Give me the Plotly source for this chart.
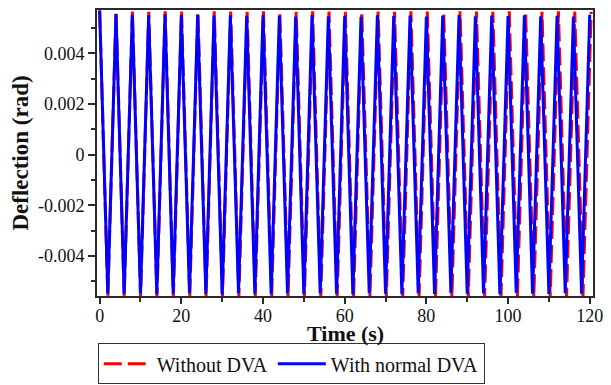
import plotly.graph_objects as go

# Extrema (time in s, deflection in rad)
blue_time = [0, 2, 4, 6, 8, 10, 12, 14, 16, 18, 20, 22, 24, 26, 28, 30, 32, 34, 36, 38,
             40, 42, 44, 46, 48, 50, 52, 54, 56, 58, 60, 62, 64, 66, 68, 70, 72, 74, 76, 78,
             80, 82, 84, 86, 88, 90, 92, 94, 96, 98, 100, 102, 104, 106, 108, 110, 112, 114, 116, 118, 120]
blue_defl = [0.00568, -0.00548, 0.00556, -0.00550, 0.00552, -0.00546, 0.00550, -0.00551, 0.00554, -0.00549,
             0.00551, -0.00547, 0.00553, -0.00550, 0.00549, -0.00552, 0.00550, -0.00546, 0.00548, -0.00549,
             0.00552, -0.00551, 0.00547, -0.00548, 0.00545, -0.00550, 0.00551, -0.00547, 0.00546, -0.00549,
             0.00548, -0.00552, 0.00544, -0.00546, 0.00550, -0.00549, 0.00547, -0.00551, 0.00549, -0.00547,
             0.00545, -0.00550, 0.00548, -0.00546, 0.00551, -0.00549, 0.00546, -0.00548, 0.00549, -0.00551,
             0.00547, -0.00546, 0.00550, -0.00549, 0.00546, -0.00550, 0.00548, -0.00547, 0.00545, -0.00549, 0.00552]

red_time = [0, 2.00, 4.01, 6.01, 8.02, 10.02, 12.03, 14.03, 16.04, 18.05, 20.05, 22.06, 24.06, 26.07, 28.07,
            30.08, 32.09, 34.09, 36.10, 38.10, 40.11, 42.12, 44.12, 46.13, 48.13, 50.14, 52.15, 54.15, 56.16,
            58.16, 60.17, 62.18, 64.18, 66.19, 68.19, 70.20, 72.21, 74.21, 76.22, 78.22, 80.23, 82.24, 84.24,
            86.25, 88.25, 90.26, 92.27, 94.27, 96.28, 98.28, 100.29, 102.30, 104.30, 106.31, 108.31, 110.32,
            112.33, 114.33, 116.34, 118.34, 120.35]
red_defl = [0.00570, -0.00562, 0.00566, -0.00561, 0.00565, -0.00563, 0.00564, -0.00562, 0.00566, -0.00561,
            0.00565, -0.00563, 0.00564, -0.00562, 0.00566, -0.00561, 0.00565, -0.00563, 0.00564, -0.00562,
            0.00566, -0.00561, 0.00565, -0.00563, 0.00564, -0.00562, 0.00566, -0.00561, 0.00565, -0.00563,
            0.00564, -0.00562, 0.00566, -0.00561, 0.00565, -0.00563, 0.00564, -0.00562, 0.00566, -0.00561,
            0.00565, -0.00563, 0.00564, -0.00562, 0.00566, -0.00561, 0.00565, -0.00563, 0.00564, -0.00562,
            0.00566, -0.00561, 0.00565, -0.00563, 0.00564, -0.00562, 0.00566, -0.00561, 0.00565, -0.00563, 0.00564]

x_ticks = [0, 20, 40, 60, 80, 100, 120]
y_ticks = [-0.004, -0.002, 0, 0.002, 0.004]
y_tick_text = ["-0.004", "-0.002", "0", "0.002", "0.004"]
x_title = "Time (s)"
y_title = "Deflection (rad)"

FONT = "Liberation Serif"
AX = "#2a2a2a"
TXT = "#111111"

fig = go.Figure()
fig.add_trace(go.Scatter(x=red_time, y=red_defl, mode="lines", name="Without DVA",
                         line=dict(color="#ff0000", width=3, dash="18px,6px")))
fig.add_trace(go.Scatter(x=blue_time, y=blue_defl, mode="lines", name="With normal DVA",
                         line=dict(color="#0000ff", width=3)))

fig.update_layout(
    width=611, height=385,
    margin=dict(l=97, r=18, t=10, b=89),
    paper_bgcolor="white", plot_bgcolor="white",
    font=dict(family=FONT, color=TXT, size=17),
    showlegend=True,
    legend=dict(orientation="h", xref="container", yref="container",
                x=0.160, xanchor="left", y=0.002, yanchor="bottom",
                bordercolor="#333333", borderwidth=1, bgcolor="white",
                font=dict(family=FONT, size=20, color=TXT),
                itemwidth=48, tracegroupgap=0, traceorder="normal"),
    annotations=[dict(text="<b>" + x_title + "</b>", xref="paper", yref="paper",
                      x=0.5, y=-0.1294, xanchor="center", yanchor="middle", showarrow=False,
                      font=dict(family=FONT, size=22, color=TXT))],
)
fig.update_xaxes(range=[-0.65, 120.8], tickvals=x_ticks, ticks="outside", ticklen=6, tickwidth=1.5,
                 tickcolor=AX, showline=True, linecolor=AX, linewidth=2, mirror=True,
                 showgrid=False, zeroline=False, automargin=False, ticklabelstandoff=-4,
                 minor=dict(dtick=10, ticks="outside", ticklen=4, tickcolor=AX, tickwidth=1.5),
                 tickfont=dict(family=FONT, size=18, color=TXT))
fig.update_yaxes(range=[-0.00558, 0.00571], tickvals=y_ticks, ticktext=y_tick_text, ticks="outside",
                 ticklen=7, tickwidth=1.5, tickcolor=AX, showline=True, linecolor=AX, linewidth=2,
                 mirror=True, showgrid=False, zeroline=False, automargin=False,
                 minor=dict(dtick=0.001, ticks="outside", ticklen=4, tickcolor=AX, tickwidth=1.5),
                 title=dict(text="<b>" + y_title + "</b>", font=dict(family=FONT, size=23, color=TXT), standoff=3),
                 tickfont=dict(family=FONT, size=18, color=TXT))

fig.write_html("out.html", config={"displayModeBar": False},
               post_script="document.body.style.margin='0';")
